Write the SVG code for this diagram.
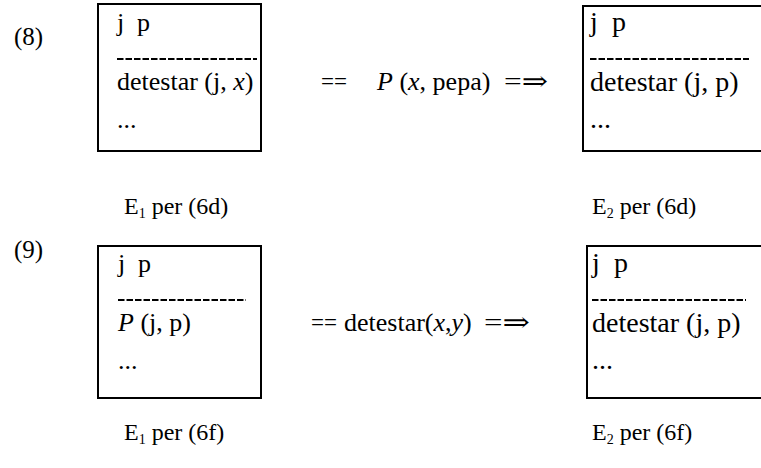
<svg xmlns="http://www.w3.org/2000/svg" width="761" height="468" viewBox="0 0 761 468">
<style>
text{font-family:"Liberation Serif","DejaVu Serif",serif;font-size:26px;fill:#000}
.i{font-style:italic}
.box{fill:none;stroke:#000;stroke-width:2}
.dash{stroke:#000;stroke-width:2;stroke-dasharray:6.5 2}
.lbl{font-size:25px}
.big{font-size:28px}
.cap{font-size:24px}
.sub{font-size:14px}
</style>
<rect width="761" height="468" fill="#fff"/>
<text id="lbl8" class="lbl" x="14" y="45">(8)</text>
<text id="lbl9" class="lbl" x="14" y="258">(9)</text>

<g id="e1a">
<rect class="box" x="98" y="4" width="163" height="147"/>
<text x="117" y="31">j<tspan x="137">p</tspan></text>
<line class="dash" x1="117" y1="59" x2="257" y2="59"/>
<text x="117" y="90">detestar (j, <tspan class="i">x</tspan>)</text>
<text x="117" y="128">...</text>
</g>
<g id="e2a">
<rect class="box" x="583" y="6" width="190" height="145"/>
<text class="big" x="590" y="31">j<tspan x="612">p</tspan></text>
<line class="dash" x1="590" y1="59" x2="749" y2="59"/>
<text class="big" x="590" y="91">detestar (j, p)</text>
<text class="big" x="590" y="128">...</text>
</g>
<g id="e1b">
<rect class="box" x="98" y="246" width="163" height="152"/>
<text x="118" y="272">j<tspan x="138">p</tspan></text>
<line class="dash" x1="118" y1="300" x2="246" y2="300"/>
<text x="118" y="331"><tspan class="i">P</tspan> (j, p)</text>
<text x="118" y="369">...</text>
</g>
<g id="e2b">
<rect class="box" x="587" y="246" width="190" height="152"/>
<text class="big" x="592" y="272">j<tspan x="614">p</tspan></text>
<line class="dash" x1="592" y1="300" x2="746" y2="300"/>
<text class="big" x="592" y="332">detestar (j, p)</text>
<text class="big" x="592" y="369">...</text>
</g>

<g id="connectors">
<text x="321" y="90" textLength="26" lengthAdjust="spacingAndGlyphs">==</text>
<text x="377" y="90"><tspan class="i">P</tspan> (<tspan class="i">x</tspan>, pepa)</text>
<text x="504" y="90" textLength="44" lengthAdjust="spacingAndGlyphs">=⇒</text>
<text x="311" y="331" textLength="26" lengthAdjust="spacingAndGlyphs">==</text>
<text x="344" y="331">detestar(<tspan class="i">x</tspan>,<tspan class="i">y</tspan>)</text>
<text x="484" y="331" textLength="46" lengthAdjust="spacingAndGlyphs">=⇒</text>
</g>

<g id="captions">
<text class="cap" x="124" y="214">E<tspan class="sub" dy="4">1</tspan><tspan dy="-4"> per (6d)</tspan></text>
<text class="cap" x="592" y="214">E<tspan class="sub" dy="4">2</tspan><tspan dy="-4"> per (6d)</tspan></text>
<text class="cap" x="124" y="440">E<tspan class="sub" dy="4">1</tspan><tspan dy="-4"> per (6f)</tspan></text>
<text class="cap" x="592" y="440">E<tspan class="sub" dy="4">2</tspan><tspan dy="-4"> per (6f)</tspan></text>
</g>
</svg>
